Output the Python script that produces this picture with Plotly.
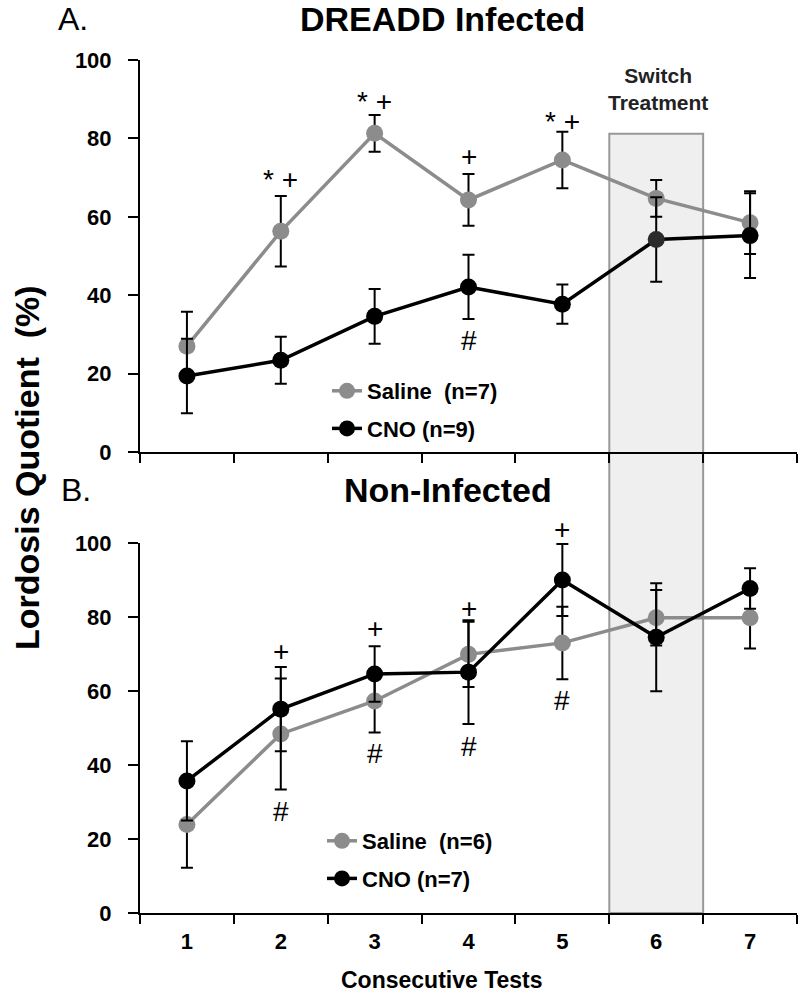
import plotly.graph_objects as go

# ---------------- data ----------------
tests = ["1", "2", "3", "4", "5", "6", "7"]

# Panel A: DREADD Infected
a_saline = [27.0, 56.3, 81.3, 64.3, 74.5, 64.7, 58.5]
a_saline_err = [8.8, 9.0, 4.7, 6.6, 7.2, 4.7, 8.0]
a_cno = [19.4, 23.4, 34.6, 42.1, 37.7, 54.2, 55.2]
a_cno_err = [9.5, 6.0, 7.0, 8.2, 5.0, 10.8, 10.8]

# Panel B: Non-Infected
b_saline = [23.9, 48.4, 57.3, 69.9, 73.0, 79.8, 79.8]
b_saline_err = [11.7, 15.0, 8.5, 8.8, 9.8, 7.5, 8.3]
b_cno = [35.7, 55.1, 64.6, 65.1, 90.0, 74.5, 87.7]
b_cno_err = [10.7, 11.4, 7.5, 14.0, 9.7, 14.6, 5.5]

# significance marks: (test, value, text)
a_marks = [("2", 69.4, "* +"), ("3", 89.4, "* +"), ("4", 75.3, "+"), ("5", 84.3, "* +"), ("4", 28.5, "#")]
b_marks = [("2", 70.8, "+"), ("3", 76.9, "+"), ("4", 82.4, "+"), ("5", 103.7, "+"),
           ("2", 27.3, "#"), ("3", 43.0, "#"), ("4", 44.9, "#"), ("5", 57.4, "#")]

y_ticks = [0, 20, 40, 60, 80, 100]
switch_top = 81.2  # top of the "Switch Treatment" box (panel A units)

# ---------------- styling ----------------
FONT = "Liberation Sans, Arial, sans-serif"
GRAY = "#8c8c8c"
BLACK = "#000000"
W, H = 800, 999
ML, MR, MT, MB = 140, 3, 60, 86
plot_h = H - MT - MB
top_lo = (913 - 452) / plot_h
bot_hi = (913 - 543) / plot_h


def px_x(px):
    return (px - ML) / (W - ML - MR)


def px_y(py):
    return (H - MB - py) / plot_h


fig = go.Figure()


def add_series(x, y, err, color, name, xa, ya, legend, group, mcolors=None):
    fig.add_trace(go.Scatter(
        x=x, y=y, mode="lines+markers", name=name,
        line=dict(color=color, width=3.5),
        marker=dict(color=mcolors if mcolors else color, size=17),
        error_y=dict(type="data", array=err, color=BLACK, thickness=2, width=6),
        xaxis=xa, yaxis=ya, legend=legend, legendgroup=group,
        cliponaxis=False, hoverinfo="skip",
    ))


add_series(tests, a_saline, a_saline_err, GRAY, "Saline\u00a0 (n=7)", "x", "y", "legend", "a1")
a_cno_colors = [BLACK] * 5 + ["#2b2b2b", BLACK]
add_series(tests, a_cno, a_cno_err, BLACK, "CNO (n=9)", "x", "y", "legend", "a2", a_cno_colors)
add_series(tests, b_saline, b_saline_err, GRAY, "Saline\u00a0 (n=6)", "x2", "y2", "legend2", "b1")
add_series(tests, b_cno, b_cno_err, BLACK, "CNO (n=7)", "x2", "y2", "legend2", "b2")

# switch treatment box spanning both panels
fig.add_shape(type="rect", xref="x", yref="paper", x0=4.5, x1=5.5,
              y0=0, y1=top_lo + switch_top / 100 * (1 - top_lo),
              fillcolor="#efefef", line=dict(color="#999999", width=2), layer="below")


def txt(x, y, text, size, xref="paper", yref="paper", bold=False, color=BLACK, **kw):
    f = dict(family=FONT, size=size, color=color)
    if bold:
        f["weight"] = "bold"
    return dict(x=x, y=y, xref=xref, yref=yref, text=text, showarrow=False,
                xanchor="center", yanchor="middle", font=f, **kw)


def mark(t, v, s, xref, dom):
    # place in paper units (so marks above the 100 limit stay visible)
    yp = dom[0] + v / 100 * (dom[1] - dom[0])
    return txt(tests.index(t), yp, s, 28, xref=xref, yref="paper")


ann = []
for t, v, s in a_marks:
    ann.append(mark(t, v, s, "x", (top_lo, 1)))
for t, v, s in b_marks:
    ann.append(mark(t, v, s, "x2", (0, bot_hi)))

ann += [
    txt(px_x(442), px_y(19), "DREADD Infected", 34, bold=True),
    txt(px_x(448), px_y(490), "Non-Infected", 34, bold=True),
    txt(px_x(73), px_y(19), "A.", 32),
    txt(px_x(76), px_y(490), "B.", 32),
    txt(px_x(658), px_y(89), "Switch<br>Treatment", 21, bold=True, color="#222222"),
    txt(px_x(442), px_y(980), "Consecutive Tests", 23, bold=True),
    txt(px_x(27), px_y(468), "Lordosis Quotient\u00a0 (%)", 34, bold=True, textangle=-90),
]

xa_common = dict(type="category", range=[-0.5, 6.5], showline=True, linecolor=BLACK,
                 linewidth=2, ticks="outside", tickson="boundaries", ticklen=9,
                 tickwidth=2, tickcolor=BLACK, showgrid=False, zeroline=False,
                 tickfont=dict(family=FONT, size=22, color=BLACK, weight="bold"))
ya_common = dict(range=[0, 100], tickvals=y_ticks, showline=True, linecolor=BLACK,
                 linewidth=2, ticks="outside", ticklen=10, tickwidth=2, tickcolor=BLACK,
                 showgrid=False, zeroline=False, ticklabelstandoff=12,
                 tickfont=dict(family=FONT, size=22, color=BLACK, weight="bold"))

legend_common = dict(xanchor="left", yanchor="top", bgcolor="rgba(0,0,0,0)",
                     font=dict(family=FONT, size=22, color=BLACK, weight="bold"),
                     tracegroupgap=6, itemwidth=30)

fig.update_layout(
    width=W, height=H,
    margin=dict(l=ML, r=MR, t=MT, b=MB),
    paper_bgcolor="white", plot_bgcolor="rgba(0,0,0,0)",
    showlegend=True, hovermode=False,
    xaxis=dict(**xa_common, domain=[0, 1], anchor="y", showticklabels=False),
    yaxis=dict(**ya_common, domain=[top_lo, 1], anchor="x"),
    xaxis2=dict(**xa_common, domain=[0, 1], anchor="y2", ticklabelstandoff=8),
    yaxis2=dict(**ya_common, domain=[0, bot_hi], anchor="x2"),
    legend=dict(**legend_common, x=px_x(327), y=px_y(370)),
    legend2=dict(**legend_common, x=px_x(322), y=px_y(820)),
    annotations=ann,
)

fig.write_html("out.html", config={"displayModeBar": False},
               post_script="document.body.style.margin='0';")
